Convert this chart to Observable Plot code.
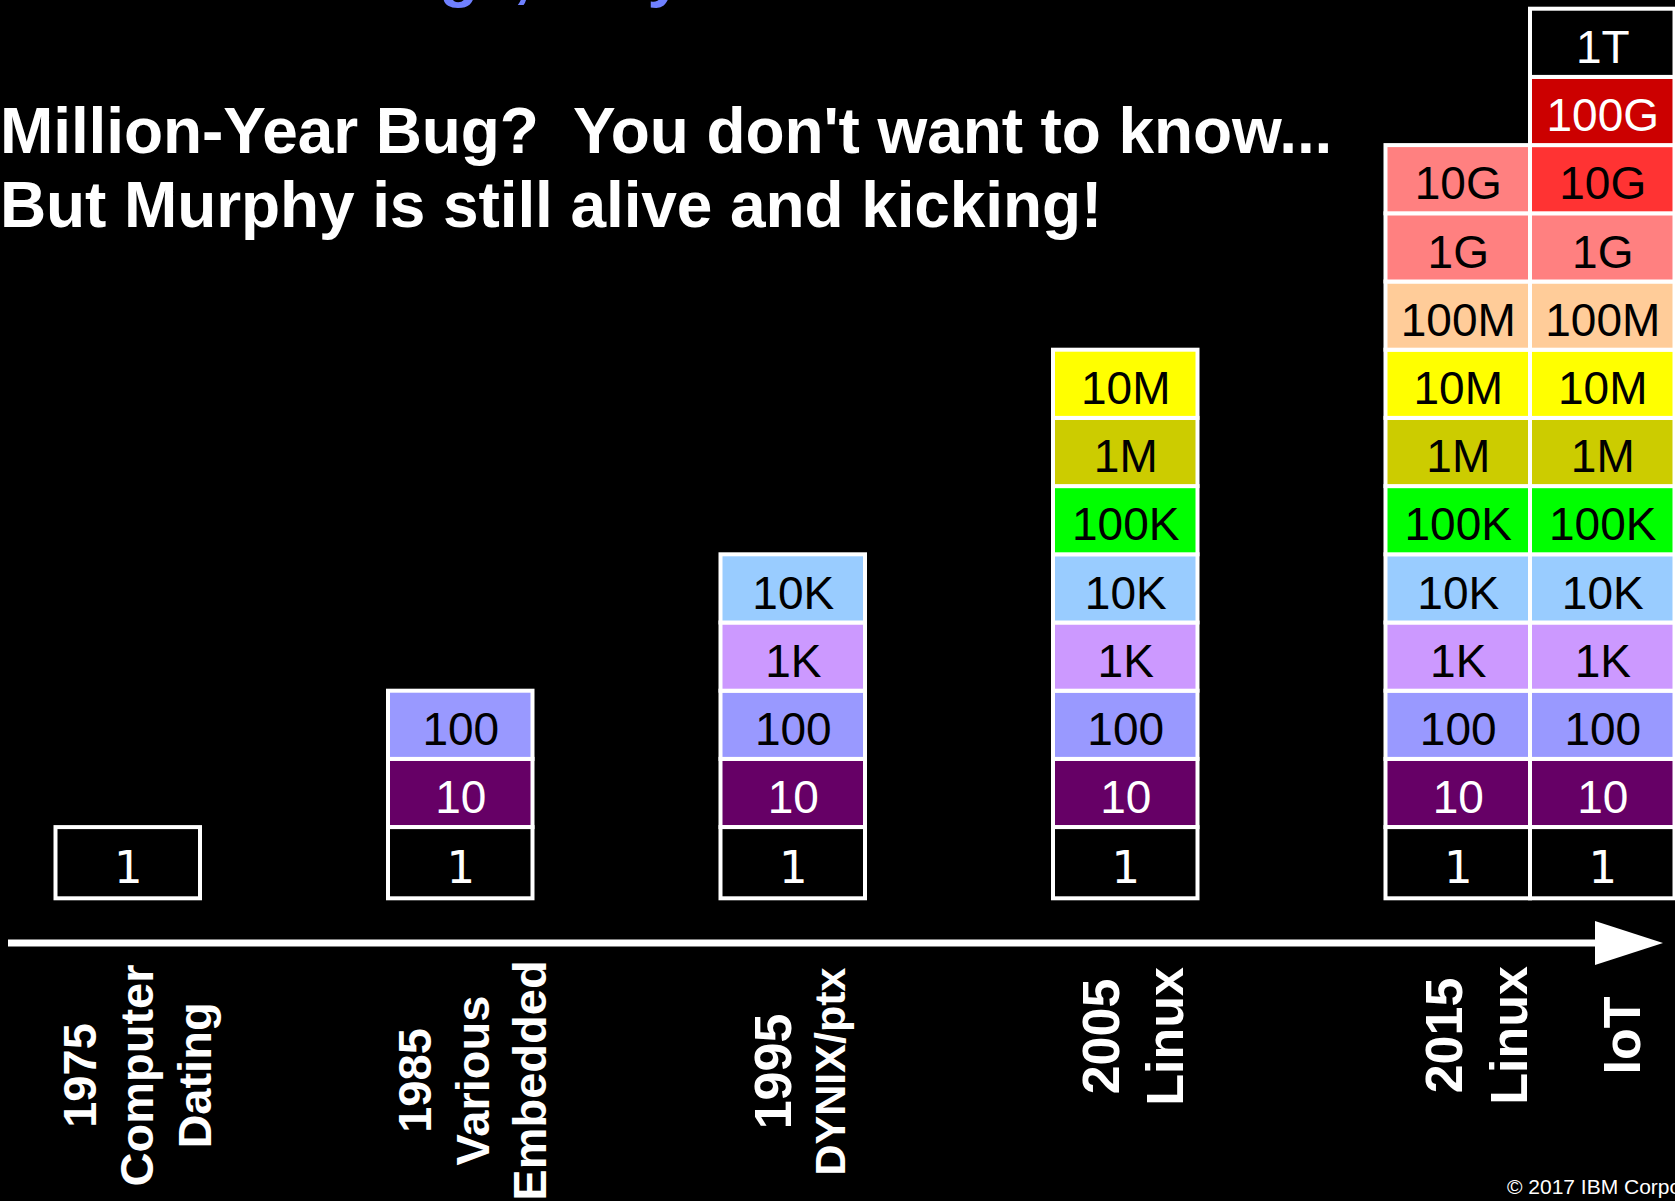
<!DOCTYPE html>
<html>
<head>
<meta charset="utf-8">
<script src="https://cdn.jsdelivr.net/npm/d3@7"></script>
<script src="https://cdn.jsdelivr.net/npm/@observablehq/plot@0.6"></script>
<style>
  html, body { margin: 0; padding: 0; background: #000; width: 1675px; height: 1201px; overflow: hidden; }
  #wrap { position: relative; width: 1675px; height: 1201px; overflow: hidden; }
  #chart { position: absolute; left: 0; top: 0; }
  .t { position: absolute; white-space: pre; line-height: 1; font-family: "Liberation Sans", Arial, sans-serif; }
  .title { left: 0px; font-weight: bold; color: #fff; font-size: 64px; letter-spacing: -0.1px; }
  .pretitle { left: 196px; top: -58px; font-weight: bold; color: #6f80ff; font-size: 63.5px; }
  .credit { left: 1507px; top: 1176px; color: #fff; font-size: 21px; }
</style>
</head>
<body>
<div id="wrap">
  <div id="chart"></div>
  <div class="t pretitle">Rare Bugs, Why Care?</div>
  <div class="t title" style="top:98.5px">Million-Year Bug?  You don't want to know...</div>
  <div class="t title" style="top:172.5px">But Murphy is still alive and kicking!</div>
  <div class="t credit">© 2017 IBM Corporation</div>
</div>
<script>
// ---- data ----
const eras = ["1975", "1985", "1995", "2005", "2015", "IoT"];
const eraLines = [
  ["1975", "Computer", "Dating"],
  ["1985", "Various", "Embedded"],
  ["1995", "DYNIX/ptx"],
  ["2005", "Linux"],
  ["2015", "Linux"],
  ["IoT"]
];
const levels = ["1", "10", "100", "1K", "10K", "100K", "1M", "10M", "100M", "1G", "10G", "100G", "1T"];
const levelsReached = [1, 3, 5, 8, 11, 13];
const levelFill = ["#000000", "#660066", "#9999ff", "#cc99ff", "#99ccff", "#00ff00", "#cccc00", "#ffff00", "#ffcc99", "#ff8080", "#ff8080", "#cc0000", "#000000"];
const iotFill = {"10G": "#ff3333", "100G": "#cc0000", "1T": "#000000"};
const whiteText = ["1", "10", "100G", "1T"];

// ---- build table ----
const cells = [];
eras.forEach((era, e) => {
  for (let k = 0; k < levelsReached[e]; k++) {
    const level = levels[k];
    const fill = (era === "IoT" && iotFill[level]) ? iotFill[level] : levelFill[k];
    cells.push({era, level, fill, ink: whiteText.includes(level) ? "#ffffff" : "#000000"});
  }
});

// ---- layout (styling only) ----
const W = 1675, H = 1201;
const xRange = [55.5, 1530], padInner = 0.5654;
const step = (xRange[1] - xRange[0]) / (5 - padInner);
const bw = step * (1 - padInner);            // column width; IoT sits one column right of 2015
const slot = era => era === "IoT" ? "2015" : era;
const shiftOf = era => era === "IoT" ? bw : 0;
const labelLayout = {
  "1975": {first: -32.75, step: 57.5, sizes: [47, 47, 47], cy: 1075},
  "1985": {first: -29.75, step: 57.5, sizes: [47, 47, 47], cy: 1080},
  "1995": {first: -2.25, step: 53.5, sizes: [52, 43], cy: 1071},
  "2005": {first: -6.75, step: 64, sizes: [52, 52], cy: 1036},
  "2015": {first: 3.95, step: 65, sizes: [52, 52], cy: 1035},
  "IoT":  {first: 36.75, step: 0, sizes: [52], cy: 1035}
};

const cellMarks = [];
for (const col of ["main", "iot"]) {
  const data = cells.filter(d => (d.era === "IoT") === (col === "iot"));
  const dx = col === "iot" ? bw : 0;
  const base = data.filter(d => d.level === "1");
  const rest = data.filter(d => d.level !== "1");
  cellMarks.push(
    Plot.cell(rest, {x: d => slot(d.era), y: "level", fill: "fill", stroke: "#ffffff", strokeWidth: 4, inset: 0, dx}),
    Plot.cell(base, {x: d => slot(d.era), y: "level", fill: "fill", stroke: "#ffffff", strokeWidth: 4, inset: 0, insetBottom: -3, dx}),
    Plot.text(rest, {x: d => slot(d.era), y: "level", text: "level", fill: "ink",
      fontSize: 46, fontFamily: "Liberation Sans, Arial, sans-serif", dy: 5, dx}),
    Plot.text(base, {x: d => slot(d.era), y: "level", text: "level", fill: "ink",
      fontSize: 45, fontFamily: "DejaVu Sans, sans-serif", dy: 7, dx})
  );
}

const labelMarks = [];
eras.forEach((era, e) => {
  const L = labelLayout[era];
  eraLines[e].forEach((line, j) => {
    labelMarks.push(Plot.text([line], {
      x: () => slot(era), text: d => d, rotate: -90,
      frameAnchor: "bottom", lineAnchor: "bottom", textAnchor: "middle",
      dx: shiftOf(era) + L.first + j * L.step, dy: L.cy - H,
      fontSize: L.sizes[j], fontWeight: "bold", fontFamily: "Liberation Sans, Arial, sans-serif", fill: "#ffffff"
    }));
  });
});

function timeArrow(index, scales, values, dims) {
  const g = d3.create("svg:g");
  const y = 943, x0 = 8, head = 1595, tip = dims.width - 12, half = 22;
  g.append("rect").attr("x", x0).attr("y", y - 3.5).attr("width", head - x0 + 2).attr("height", 7).attr("fill", "#fff");
  g.append("polygon").attr("points", `${head},${y - half} ${tip},${y} ${head},${y + half}`).attr("fill", "#fff");
  return g.node();
}

const chart = Plot.plot({
  width: W, height: H, margin: 0,
  style: {background: "transparent", color: "#fff", overflow: "visible"},
  x: {type: "band", domain: eras.slice(0, 5), range: xRange, paddingInner: padInner, paddingOuter: 0, round: false, axis: null},
  y: {type: "band", domain: levels, range: [895.3, 8.7], padding: 0, round: false, axis: null},
  color: {type: "identity"},
  marks: [
    ...cellMarks,
    timeArrow,
    ...labelMarks
  ]
});
document.getElementById("chart").appendChild(chart);
</script>
</body>
</html>
